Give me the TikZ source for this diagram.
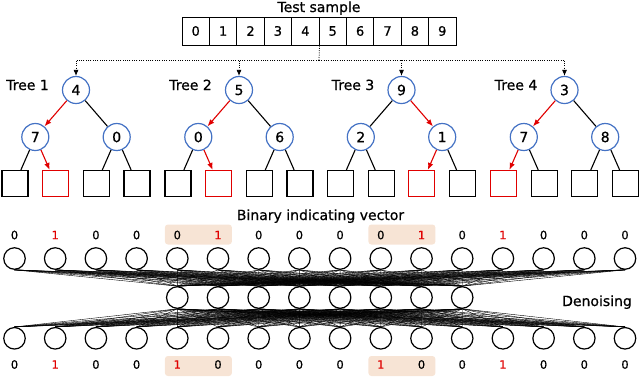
\documentclass[tikz,border=0pt]{standalone}
\usepackage{fontspec}
\setmainfont{DejaVu Sans}[FakeBold=0.7]
\usepackage{xcolor}
\usepackage{tikz}
\usetikzlibrary{arrows.meta,positioning}
\definecolor{treeblue}{HTML}{4472C4}
\definecolor{pathred}{HTML}{E00000}
\definecolor{peach}{HTML}{F7E4D5}
\tikzset{
  tnode/.style={circle,draw=treeblue,line width=1.2pt,minimum size=27pt,inner sep=0pt,font=\fontsize{14}{16}\selectfont},
  leaf/.style={rectangle,draw,line width=1.2pt,minimum size=26pt,inner sep=0pt},
  leafhit/.style={leaf,draw=pathred},
  link/.style={line width=1.1pt},
  hit/.style={-{Latex[length=7pt,width=5.5pt]},pathred,line width=1.1pt},
  cell/.style={rectangle,draw,line width=1pt,minimum width=27.4pt,minimum height=28pt,inner sep=0pt,font=\fontsize{13}{15}\selectfont},
  dotline/.style={dash pattern=on 1pt off 1.3pt,line width=0.8pt},
  feed/.style={dotline,-{Latex[length=6pt,width=5pt]}},
  unit/.style={circle,draw,line width=1.2pt,minimum size=21.5pt,inner sep=0pt},
  wire/.style={line width=0.4pt},
  bit/.style={font=\fontsize{11.5}{13}\selectfont},
  bitone/.style={bit,text=pathred},
  hl/.style={rectangle,fill=peach,rounded corners=3pt,minimum width=67pt,minimum height=20pt},
  heading/.style={font=\fontsize{14}{16}\selectfont,anchor=base,inner sep=0pt},
}
\newcommand{\dtree}[7]{% name, x, caption, root, left, right, red leaf
  \node[tnode] (#1r) at (#2,90) {#4};
  \node[tnode] (#1a) at ({#2-40.7},137) {#5};
  \node[tnode] (#1b) at ({#2+40.7},137) {#6};
  \node[heading,anchor=base east] (#1n) at ({#2-27},90) {#3};
  \foreach \i/\dx in {1/-61.05,2/-20.35,3/20.35,4/61.05}{
    \ifnum\i=#7 \def\lf{leafhit}\else\def\lf{leaf}\fi
    \node[\lf] (#1l\i) at ({#2+\dx},183.5) {};}}

\begin{document}
\begin{tikzpicture}[x=1pt,y=-1pt]
  \useasboundingbox (0,0) rectangle (640,376);
  % test sample
  \node[heading] (title) at (319,12) {Test sample};
  \foreach \i in {0,...,9}
    \node[cell] (c\i) at (195.7+27.4*\i,31) {\i};
  \coordinate (bus) at (319,60);
  \draw[dotline] (c4.south east) -- (bus);

  % trees
  \dtree{t1}{76}{Tree 1}{4}{7}{0}{2}
  \dtree{t2}{239}{Tree 2}{5}{0}{6}{2}
  \dtree{t3}{401.5}{Tree 3}{9}{2}{1}{3}
  \dtree{t4}{564.5}{Tree 4}{3}{7}{8}{1}
  \foreach \k in {1,...,4}
    \draw[feed] (bus) -| (t\k r);
  \foreach \p/\c/\s in {r/a/hit,r/b/link,a/l1/link,a/l2/hit,b/l3/link,b/l4/link}
    \draw[\s] (t1\p) -- (t1\c);
  \foreach \p/\c/\s in {r/a/hit,r/b/link,a/l1/link,a/l2/hit,b/l3/link,b/l4/link}
    \draw[\s] (t2\p) -- (t2\c);
  \foreach \p/\c/\s in {r/a/link,r/b/hit,a/l1/link,a/l2/link,b/l3/hit,b/l4/link}
    \draw[\s] (t3\p) -- (t3\c);
  \foreach \p/\c/\s in {r/a/hit,r/b/link,a/l1/hit,a/l2/link,b/l3/link,b/l4/link}
    \draw[\s] (t4\p) -- (t4\c);

  % denoising network
  \node[hl] (hlA) at (198.4,234.5) {};
  \node[hl] (hlB) at (401.9,234.5) {};
  \node[hl] (hlC) at (198.4,366) {};
  \node[hl] (hlD) at (401.9,366) {};
  \node[heading] (vec) at (320.5,220) {Binary indicating vector};
  \node[heading] (den) at (597,306) {Denoising};
  \foreach \v [count=\i from 0] in {0,1,0,0,0,1,0,0,0,0,1,0,1,0,0,0}{
    \ifnum\v=1 \def\bst{bitone}\else\def\bst{bit}\fi
    \node[\bst] (v\i) at (14.5+40.7*\i,235) {\v};}
  \foreach \v [count=\i from 0] in {0,1,0,0,1,0,0,0,0,1,0,0,1,0,0,0}{
    \ifnum\v=1 \def\bst{bitone}\else\def\bst{bit}\fi
    \node[\bst] (w\i) at (14.5+40.7*\i,364.5) {\v};}
  \foreach \i in {0,...,15}{
    \node[unit] (in\i) at (14.5+40.7*\i,258.5) {};
    \node[unit] (out\i) at (14.5+40.7*\i,338.3) {};}
  \foreach \j in {0,...,7}
    \node[unit] (hid\j) at (14.5+40.7*\j+162.8,297.5) {};
  \foreach \i in {0,...,15}
    \foreach \j in {0,...,7}{
      \draw[wire] (in\i.south) -- (hid\j.north);
      \draw[wire] (hid\j.south) -- (out\i.north);}
\end{tikzpicture}
\end{document}
